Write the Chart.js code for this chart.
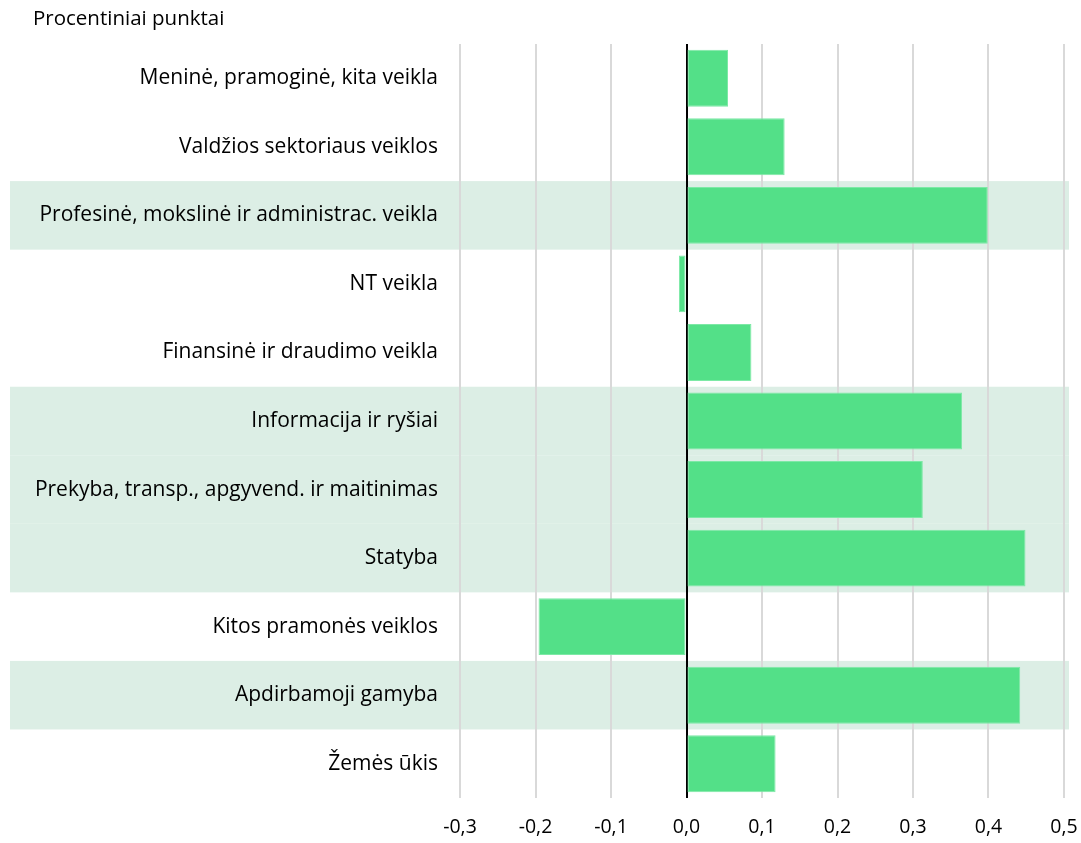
<!DOCTYPE html>
<html>
<head>
<meta charset="utf-8">
<script src="https://cdn.jsdelivr.net/npm/chart.js@4/dist/chart.umd.min.js"></script>
<style>
html,body{margin:0;padding:0;background:#fff;}
#wrap{position:relative;width:1081px;height:843px;}
</style>
</head>
<body>
<div id="wrap"><canvas id="c" width="1081" height="843"></canvas></div>
<script>
const categories = [
  "Meninė, pramoginė, kita veikla",
  "Valdžios sektoriaus veiklos",
  "Profesinė, mokslinė ir administrac. veikla",
  "NT veikla",
  "Finansinė ir draudimo veikla",
  "Informacija ir ryšiai",
  "Prekyba, transp., apgyvend. ir maitinimas",
  "Statyba",
  "Kitos pramonės veiklos",
  "Apdirbamoji gamyba",
  "Žemės ūkis"
];
const values = [0.055, 0.13, 0.399, -0.01, 0.086, 0.365, 0.313, 0.449, -0.196, 0.442, 0.118];
const highlighted = [false, false, true, false, false, true, true, true, false, true, false];
const axisTitle = "Procentiniai punktai";
const xMin = -0.3, xMax = 0.5, xStep = 0.1;

const FONT = "'Open Sans', Lato, sans-serif";

const bandsPlugin = {
  id: 'bands',
  beforeDraw(chart) {
    const {ctx, chartArea, scales} = chart;
    const y = scales.y;
    const half = (y.getPixelForValue(1) - y.getPixelForValue(0)) / 2;
    ctx.save();
    ctx.fillStyle = '#DCEEE5';
    highlighted.forEach((h, i) => {
      if (!h) return;
      const c = y.getPixelForValue(i);
      ctx.fillRect(10, c - half, chartArea.right + 5 - 10, half * 2);
    });
    ctx.restore();
  }
};

const titlePlugin = {
  id: 'axisTitleText',
  afterDraw(chart) {
    const ctx = chart.ctx;
    ctx.save();
    ctx.fillStyle = '#000';
    ctx.font = "20.5px " + FONT;
    ctx.textAlign = 'left';
    ctx.textBaseline = 'middle';
    ctx.fillText(axisTitle, 33, 19);
    ctx.restore();
  }
};

new Chart(document.getElementById('c'), {
  type: 'bar',
  data: {
    labels: categories,
    datasets: [{
      data: values,
      backgroundColor: '#53E088',
      borderColor: '#7DE9A6',
      borderWidth: 1,
      borderSkipped: false,
      barPercentage: 0.83,
      categoryPercentage: 1
    }]
  },
  options: {
    indexAxis: 'y',
    responsive: false,
    animation: false,
    devicePixelRatio: 1,
    layout: {padding: {top: 44, right: 17, left: 0, bottom: 0}},
    plugins: {legend: {display: false}, tooltip: {enabled: false}},
    scales: {
      x: {
        min: xMin, max: xMax,
        afterFit(s) { s.height = 45; s.paddingLeft = 0; s.paddingRight = 0; },
        border: {display: false},
        grid: {
          drawTicks: false,
          color: (c) => (c.tick && Math.abs(c.tick.value) < 1e-9) ? '#000000' : '#D9D9D9',
          lineWidth: 2
        },
        ticks: {
          stepSize: xStep,
          padding: 18,
          color: '#000',
          font: {size: 19.5, family: FONT},
          callback: (v) => Number(v).toFixed(1).replace('.', ',')
        }
      },
      y: {
        afterFit(s) { s.width = 460; },
        border: {display: false},
        grid: {display: false, drawTicks: false},
        ticks: {
          padding: 22,
          color: '#000',
          font: {size: 21, family: FONT}
        }
      }
    }
  },
  plugins: [bandsPlugin, titlePlugin]
});
</script>
</body>
</html>
